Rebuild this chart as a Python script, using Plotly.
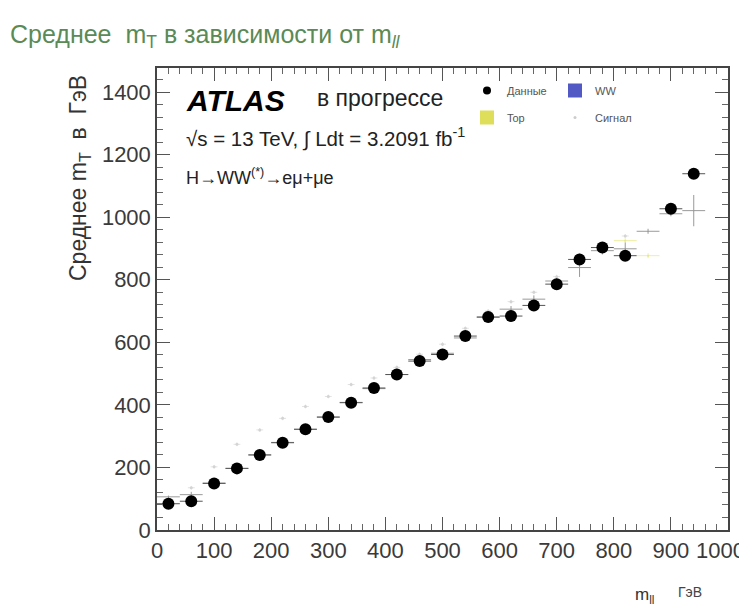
import plotly.graph_objects as go

# ---- data (bin centres in GeV) ----
bin_centres = [20, 60, 100, 140, 180, 220, 260, 300, 340, 380, 420, 460,
               500, 540, 580, 620, 660, 700, 740, 780, 820, 860, 900, 940]
half_width = [20] * 24

data_mean = [84, 92, 149, 197, 240, 279, 322, 361, 407, 454, 497, 540,
             561, 620, 681, 684, 718, 786, 865, 903, 877, None, 1027, 1139]
data_err = [3, 3, 3, 3, 3, 3, 3, 3, 3, 3, 4, 4,
            4, 10, 6, 6, 12, 8, 12, 10, 10, 0, 12, 15]

ww_mean = [106, 113, 150, 197, 240, 280, 322, 361, 408, 452, 497, 545,
           565, 614, 680, 706, 738, 796, 839, 893, 899, 955, 1011, 1021]
ww_err = [4, 9, 4, 4, 4, 4, 4, 5, 5, 5, 5, 6,
          6, 8, 8, 10, 12, 10, 30, 12, 20, 8, 8, 50]

sig_mean = [None, 135, 202, 274, 320, 357, 395, 427, 465, 486, 520, 562,
            594, 645, 700, 730, 760, 810, 880, 905, 940, None, None, None]

top_mean = [None] * 20 + [925, 877, None, None]

x_ticks = [0, 100, 200, 300, 400, 500, 600, 700, 800, 900, 1000]
x_labels = ["0", "100", "200", "300", "400", "500", "600", "700", "800", "900", "1000"]
y_ticks = [0, 200, 400, 600, 800, 1000, 1200, 1400]
y_labels = ["0", "200", "400", "600", "800", "1000", "1200", "1400"]

FONT = "Liberation Sans"

# the last x label is drawn (shifted left, as in the reference) as an annotation
x_text = x_labels[:-1] + [""]

fig = go.Figure()

# Top (faint yellow crosses)
fig.add_trace(go.Scatter(
    x=bin_centres, y=top_mean, mode="markers",
    marker=dict(size=2, color="#e6e68a"),
    error_x=dict(type="data", array=half_width, color="#eeeea0", thickness=1, width=0),
    error_y=dict(type="data", array=[8] * 24, color="#eeeea0", thickness=1, width=0),
    showlegend=False, hoverinfo="skip"))

# Signal (very light grey)
fig.add_trace(go.Scatter(
    x=bin_centres, y=sig_mean, mode="markers",
    marker=dict(size=3, color="#d4d4d4"),
    error_x=dict(type="data", array=[6] * 24, color="#e2e2e2", thickness=1, width=0),
    error_y=dict(type="data", array=[6] * 24, color="#e2e2e2", thickness=1, width=0),
    showlegend=False, hoverinfo="skip"))

# WW (grey crosses)
fig.add_trace(go.Scatter(
    x=bin_centres, y=ww_mean, mode="markers",
    marker=dict(size=1, color="#9a9a9a"),
    error_x=dict(type="data", array=half_width, color="#9a9a9a", thickness=1, width=0),
    error_y=dict(type="data", array=ww_err, color="#9a9a9a", thickness=1, width=0),
    showlegend=False, hoverinfo="skip"))

# Data
fig.add_trace(go.Scatter(
    x=bin_centres, y=data_mean, mode="markers",
    marker=dict(size=12, color="black"),
    error_x=dict(type="data", array=half_width, color="#555555", thickness=1, width=0),
    error_y=dict(type="data", array=data_err, color="#333333", thickness=1, width=0),
    showlegend=False, hoverinfo="skip"))

# legend entries
fig.add_trace(go.Scatter(x=[None], y=[None], mode="markers", name="Данные",
                         marker=dict(size=8, color="black"),
                         legend="legend", legendgroup="a"))
fig.add_trace(go.Scatter(x=[None], y=[None], mode="markers", name="Top",
                         marker=dict(size=14, symbol="square", color="#dede5a"),
                         legend="legend", legendgroup="b"))
fig.add_trace(go.Scatter(x=[None], y=[None], mode="markers", name="WW",
                         marker=dict(size=14, symbol="square", color="#5258c4"),
                         legend="legend2", legendgroup="c"))
fig.add_trace(go.Scatter(x=[None], y=[None], mode="markers", name="Сигнал",
                         marker=dict(size=3, color="#cccccc"),
                         legend="legend2", legendgroup="d"))

TICK_FONT = dict(family=FONT, size=22, color="#3a3a3a")

axis_common = dict(
    showline=True, linecolor="#444444", linewidth=1.5, mirror="allticks",
    ticks="inside", ticklen=13, tickwidth=1.2, tickcolor="#555555",
    showgrid=False, zeroline=False, automargin=False,
    tickfont=TICK_FONT,
    minor=dict(ticks="inside", ticklen=6, tickcolor="#666666", tickwidth=1),
)

fig.update_xaxes(range=[0, 1000], tickvals=x_ticks, ticktext=x_text,
                 minor_dtick=20, **axis_common)
fig.update_yaxes(range=[0, 1477], tickvals=y_ticks, ticktext=y_labels,
                 minor_dtick=40, **axis_common)

# page offset: browser body margin is 8 px; reference coordinates are page pixels
OFF = 8
W, H = 747 - OFF, 610 - OFF


def px_x(p):
    return (p - 157) / 571.0


def px_y(p):
    return (530 - p) / 462.0


annotations = [
    dict(text="<b><i>ATLAS</i></b>", x=px_x(184), y=px_y(100), xanchor="left", yanchor="middle",
         font=dict(family=FONT, size=30, color="black")),
    dict(text="в прогрессе", x=px_x(315), y=px_y(98), xanchor="left", yanchor="middle",
         font=dict(family=FONT, size=23, color="#222222")),
    dict(text="√s = 13 TeV, ∫ Ldt = 3.2091 fb<sup>-1</sup>", x=px_x(184), y=px_y(137),
         xanchor="left", yanchor="middle", font=dict(family=FONT, size=20.5, color="#222222")),
    dict(text="H→WW<sup>(*)</sup>→eμ+μe", x=px_x(184), y=px_y(176),
         xanchor="left", yanchor="middle", font=dict(family=FONT, size=18, color="#222222")),
    dict(text="Среднее m<sub>T</sub>  в  ГэВ", x=px_x(79), y=px_y(73), textangle=-90,
         xanchor="center", yanchor="top", font=dict(family=FONT, size=23, color="#333333")),
    dict(text="m<sub>ll</sub>", x=px_x(644), y=px_y(596), xanchor="center", yanchor="middle",
         font=dict(family=FONT, size=17, color="#333333")),
    dict(text="ГэВ", x=px_x(690), y=px_y(592), xanchor="center", yanchor="middle",
         font=dict(family=FONT, size=14, color="#444444")),
    dict(text=x_labels[-1], x=px_x(720), y=px_y(550), xanchor="center", yanchor="middle",
         font=TICK_FONT),
]
for a in annotations:
    a.update(xref="paper", yref="paper", showarrow=False)

legend_common = dict(
    yanchor="top", xanchor="left", bgcolor="rgba(0,0,0,0)",
    font=dict(family=FONT, size=11, color="#555555"),
    itemwidth=30, tracegroupgap=8, itemclick=False, itemdoubleclick=False,
)

fig.update_layout(
    template="none",
    width=W, height=H,
    margin=dict(l=157 - OFF, r=W - (728 - OFF), t=68 - OFF, b=H - (530 - OFF), autoexpand=False),
    paper_bgcolor="white", plot_bgcolor="white",
    title=dict(text="Среднее  m<sub>T</sub> в зависимости от m<sub><i>ll</i></sub>",
               x=(10 - OFF) / W, xanchor="left", y=1 - (34 - OFF) / H, yanchor="middle",
               font=dict(family=FONT, size=25, color="#5a8a55")),
    annotations=annotations,
    legend=dict(x=px_x(467), y=px_y(76), **legend_common),
    legend2=dict(x=px_x(555), y=px_y(76), **legend_common),
    showlegend=True,
)

fig.write_html("out.html")
